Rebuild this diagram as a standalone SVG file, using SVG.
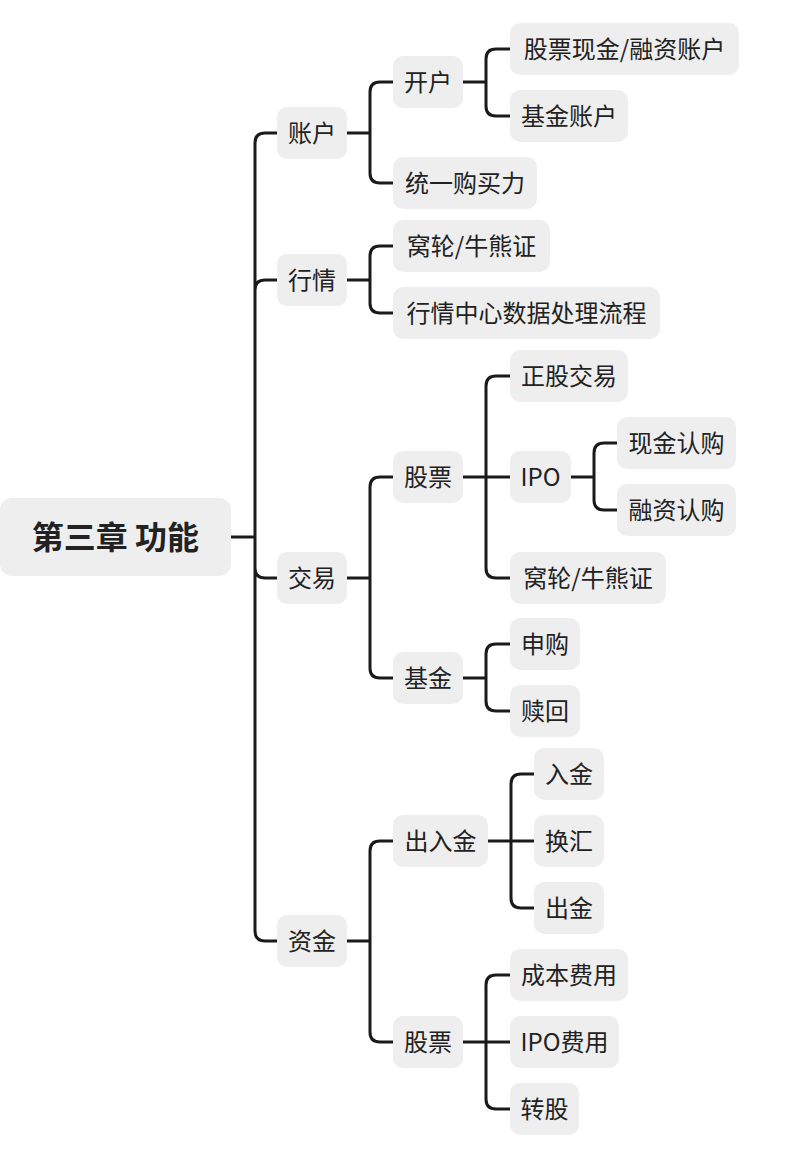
<svg xmlns="http://www.w3.org/2000/svg" width="796" height="1158" viewBox="0 0 796 1158">
<style>
.n rect{fill:#eeeeee;}
.n text{font-family:"Noto Sans CJK SC","Noto Sans",sans-serif;font-size:24px;fill:#222222;text-anchor:middle;dominant-baseline:central;}
#root text{font-size:32px;font-weight:bold;}
.c path{fill:none;stroke:#1a1a1a;stroke-width:3;}
</style>
<rect width="796" height="1158" fill="#ffffff"/>
<g class="c" id="connectors">
<path d="M231,537 H255 M255,537 V143 Q255,133 265,133 H277 M255,537 V290 Q255,280 265,280 H277 M255,537 V568 Q255,578 265,578 H277 M255,537 V931 Q255,941 265,941 H277"/>
<path d="M347,133 H370 M370,133 V92 Q370,82 380,82 H393 M370,133 V173 Q370,183 380,183 H393"/>
<path d="M463,82 H486 M486,82 V59 Q486,49 496,49 H510 M486,82 V106 Q486,116 496,116 H510"/>
<path d="M347,280 H370 M370,280 V256 Q370,246 380,246 H393 M370,280 V303 Q370,313 380,313 H393"/>
<path d="M347,578 H370 M370,578 V487 Q370,477 380,477 H393 M370,578 V668 Q370,678 380,678 H393"/>
<path d="M463,477 H510 M486,477 V386 Q486,376 496,376 H510 M486,477 V568 Q486,578 496,578 H510"/>
<path d="M571,477 H594 M594,477 V453 Q594,443 604,443 H617 M594,477 V500 Q594,510 604,510 H617"/>
<path d="M463,678 H486 M486,678 V654 Q486,644 496,644 H510 M486,678 V701 Q486,711 496,711 H510"/>
<path d="M347,941 H370 M370,941 V851 Q370,841 380,841 H393 M370,941 V1032 Q370,1042 380,1042 H393"/>
<path d="M488,841 H534 M511,841 V784 Q511,774 521,774 H534 M511,841 V898 Q511,908 521,908 H534"/>
<path d="M463,1042 H510 M486,1042 V985 Q486,975 496,975 H510 M486,1042 V1099 Q486,1109 496,1109 H510"/>
</g>
<g class="n" id="root"><rect x="0" y="498" width="231" height="78" rx="12"/><text x="115.5" y="535">第三章 功能</text></g>
<g class="n" id="n-zhanghu"><rect x="277" y="107" width="70" height="52" rx="10"/><text x="312" y="131">账户</text></g>
<g class="n" id="n-hangqing"><rect x="277" y="254" width="70" height="52" rx="10"/><text x="312" y="278">行情</text></g>
<g class="n" id="n-jiaoyi"><rect x="277" y="552" width="70" height="52" rx="10"/><text x="312" y="576">交易</text></g>
<g class="n" id="n-zijin"><rect x="277" y="915" width="70" height="52" rx="10"/><text x="312" y="939">资金</text></g>
<g class="n" id="n-kaihu"><rect x="393" y="56" width="70" height="52" rx="10"/><text x="428" y="80">开户</text></g>
<g class="n" id="n-goumaili"><rect x="393" y="157" width="144" height="52" rx="10"/><text x="465" y="181">统一购买力</text></g>
<g class="n" id="n-wolun1"><rect x="393" y="220" width="157" height="52" rx="10"/><text x="471.5" y="244">窝轮/牛熊证</text></g>
<g class="n" id="n-hqzx"><rect x="393" y="287" width="267" height="52" rx="10"/><text x="526.5" y="311">行情中心数据处理流程</text></g>
<g class="n" id="n-gupiao1"><rect x="393" y="451" width="70" height="52" rx="10"/><text x="428" y="475">股票</text></g>
<g class="n" id="n-jijin"><rect x="393" y="652" width="70" height="52" rx="10"/><text x="428" y="676">基金</text></g>
<g class="n" id="n-churujin"><rect x="393" y="815" width="95" height="52" rx="10"/><text x="440.5" y="839">出入金</text></g>
<g class="n" id="n-gupiao2"><rect x="393" y="1016" width="70" height="52" rx="10"/><text x="428" y="1040">股票</text></g>
<g class="n" id="n-gpzh"><rect x="510" y="23" width="229" height="52" rx="10"/><text x="624.5" y="47">股票现金/融资账户</text></g>
<g class="n" id="n-jjzh"><rect x="510" y="90" width="118" height="52" rx="10"/><text x="569" y="114">基金账户</text></g>
<g class="n" id="n-zgjy"><rect x="510" y="350" width="118" height="52" rx="10"/><text x="569" y="374">正股交易</text></g>
<g class="n" id="n-ipo"><rect x="510" y="451" width="61" height="52" rx="10"/><text x="540.5" y="475">IPO</text></g>
<g class="n" id="n-wolun2"><rect x="510" y="552" width="156" height="52" rx="10"/><text x="588" y="576">窝轮/牛熊证</text></g>
<g class="n" id="n-shengou"><rect x="510" y="618" width="70" height="52" rx="10"/><text x="545" y="642">申购</text></g>
<g class="n" id="n-shuhui"><rect x="510" y="685" width="70" height="52" rx="10"/><text x="545" y="709">赎回</text></g>
<g class="n" id="n-rujin"><rect x="534" y="748" width="70" height="52" rx="10"/><text x="569" y="772">入金</text></g>
<g class="n" id="n-huanhui"><rect x="534" y="815" width="70" height="52" rx="10"/><text x="569" y="839">换汇</text></g>
<g class="n" id="n-chujin"><rect x="534" y="882" width="70" height="52" rx="10"/><text x="569" y="906">出金</text></g>
<g class="n" id="n-cbfy"><rect x="510" y="949" width="118" height="52" rx="10"/><text x="569" y="973">成本费用</text></g>
<g class="n" id="n-ipofy"><rect x="510" y="1016" width="109" height="52" rx="10"/><text x="564.5" y="1040">IPO费用</text></g>
<g class="n" id="n-zhuangu"><rect x="510" y="1083" width="69" height="52" rx="10"/><text x="544.5" y="1107">转股</text></g>
<g class="n" id="n-xjrg"><rect x="617" y="417" width="119" height="52" rx="10"/><text x="676.5" y="441">现金认购</text></g>
<g class="n" id="n-rzrg"><rect x="617" y="484" width="119" height="52" rx="10"/><text x="676.5" y="508">融资认购</text></g>
</svg>
